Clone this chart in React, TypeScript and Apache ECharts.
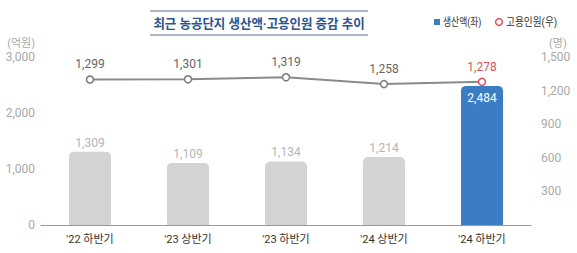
import React, { useEffect, useRef } from "react";
import * as echarts from "echarts";

const categories = ["'22 하반기", "'23 상반기", "'23 하반기", "'24 상반기", "'24 하반기"];
const production = [1309, 1109, 1134, 1214, 2484];
const employment = [1299, 1301, 1319, 1258, 1278];
const titleText = "최근 농공단지 생산액·고용인원 증감 추이";
const legendNames = ["생산액(좌)", "고용인원(우)"];

const FONT = "Roboto, 'Noto Sans CJK KR', sans-serif";
const fmt = (v: number) => v.toLocaleString("en-US");

export default function App() {
  const ref = useRef<HTMLDivElement>(null);
  useEffect(() => {
    const chart = echarts.init(ref.current!, null, { renderer: "svg" });
    const last = production.length - 1;
    chart.setOption({
      animation: false,
      textStyle: { fontFamily: FONT },
      grid: { left: 41, right: 46, top: 57, bottom: 28 },
      graphic: [
        { type: "line", shape: { x1: 150, y1: 11, x2: 368, y2: 11 }, style: { stroke: "#5a6f8f", lineWidth: 1 } },
        { type: "line", shape: { x1: 150, y1: 35, x2: 368, y2: 35 }, style: { stroke: "#5a6f8f", lineWidth: 1 } },
        {
          type: "text", x: 259, y: 23, scaleX: 0.96,
          style: { text: titleText, fill: "#2a5390", font: `bold 13px ${FONT}`, textAlign: "center", textVerticalAlign: "middle" },
        },
        { type: "rect", shape: { x: 434, y: 19, width: 6, height: 6 }, style: { fill: "#3b7dc3" } },
        {
          type: "text", x: 443, y: 22, scaleX: 0.8,
          style: { text: legendNames[0], fill: "#333", font: `11px ${FONT}`, textVerticalAlign: "middle" },
        },
        { type: "circle", shape: { cx: 499, cy: 22, r: 3.4 }, style: { fill: "#fff", stroke: "#e0505c", lineWidth: 1.5 } },
        {
          type: "text", x: 506, y: 22, scaleX: 0.88,
          style: { text: legendNames[1], fill: "#333", font: `11px ${FONT}`, textVerticalAlign: "middle" },
        },
      ],
      xAxis: {
        type: "category",
        data: categories,
        axisLine: { lineStyle: { color: "#999", width: 1 } },
        axisTick: { show: false },
        axisLabel: { color: "#333", fontSize: 11, margin: 9, fontFamily: FONT },
      },
      yAxis: [
        {
          type: "value", min: 0, max: 3000, interval: 1000,
          name: "(억원)", nameLocation: "end", nameGap: 8,
          nameTextStyle: { color: "#aaa", fontSize: 11, align: "right", padding: [0, 6, 0, 0] },
          splitLine: { show: false },
          axisLine: { show: false }, axisTick: { show: false },
          axisLabel: { color: "#aaa", fontSize: 12, margin: 6, formatter: (v: number) => fmt(v) },
        },
        {
          type: "value", min: 0, max: 1500, interval: 300,
          name: "(명)", nameLocation: "end", nameGap: 8,
          nameTextStyle: { color: "#aaa", fontSize: 11, align: "left", padding: [0, 0, 0, 18] },
          splitLine: { show: false },
          axisLine: { show: false }, axisTick: { show: false },
          axisLabel: { color: "#aaa", fontSize: 12, margin: 10, showMinLabel: false, formatter: (v: number) => fmt(v) },
        },
      ],
      series: [
        {
          type: "bar",
          yAxisIndex: 0,
          barWidth: 42,
          data: production.map((v, i) => ({
            value: v,
            itemStyle: { color: i === last ? "#3b7dc3" : "#d3d3d3", borderRadius: [5, 5, 0, 0] },
            label: i === last
              ? { position: "insideTop", distance: 6, color: "#fff" }
              : { position: "top", distance: 3, color: "#b5b5b5" },
          })),
          label: { show: true, fontSize: 12, formatter: (p: any) => fmt(p.value) },
        },
        {
          type: "line",
          yAxisIndex: 1,
          data: employment.map((v, i) => ({
            value: v,
            itemStyle: i === last ? { borderColor: "#e0505c" } : undefined,
            label: i === last ? { color: "#e0505c" } : undefined,
          })),
          symbol: "circle",
          symbolSize: 7,
          lineStyle: { color: "#8a8a8a", width: 2 },
          itemStyle: { color: "#fff", borderColor: "#7a7a7a", borderWidth: 1.5 },
          label: { show: true, position: "top", distance: 5, color: "#666", fontSize: 12, formatter: (p: any) => fmt(p.value) },
          z: 5,
        },
      ],
    });
    return () => chart.dispose();
  }, []);
  return <div ref={ref} style={{ width: 577, height: 253, position: "absolute", left: 0, top: 0 }} />;
}
